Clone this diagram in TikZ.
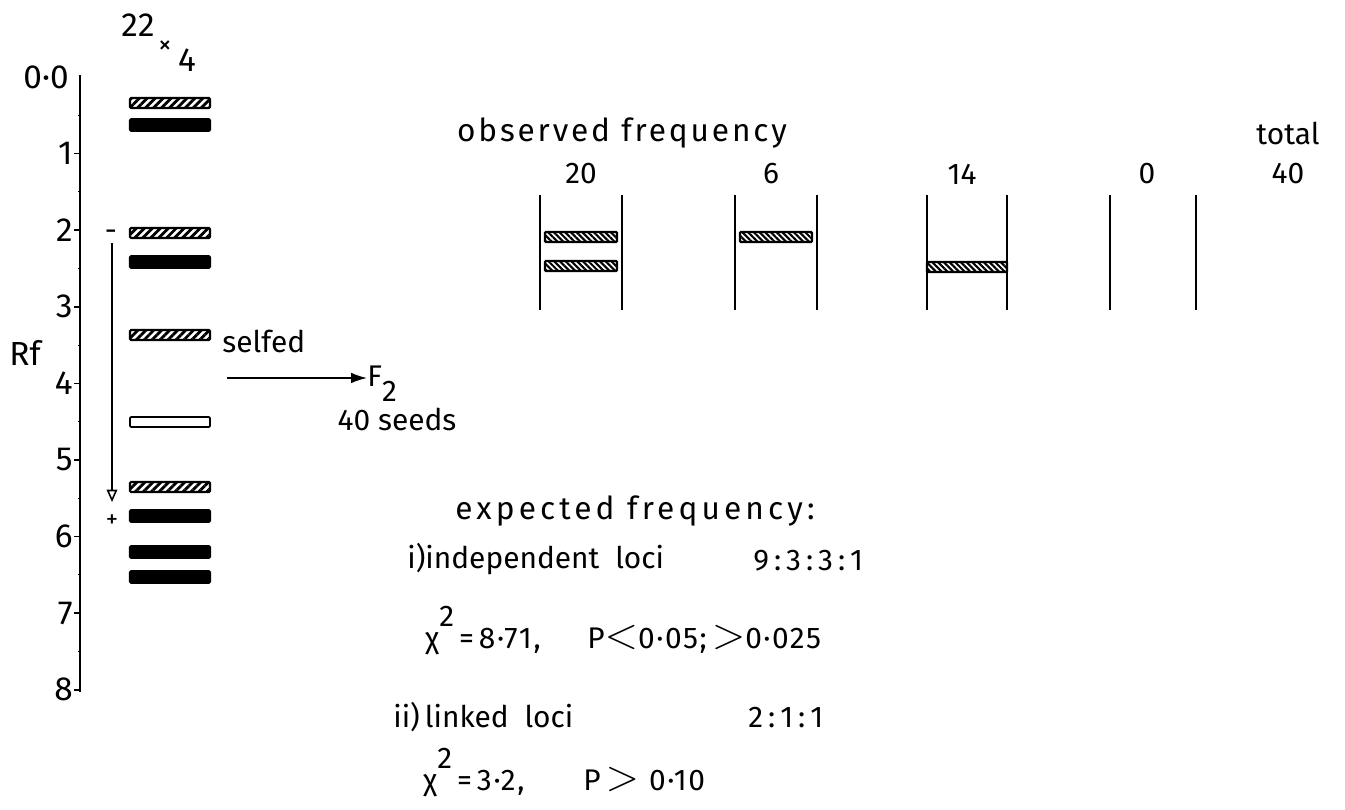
\documentclass[tikz,border=0pt]{standalone}
\usepackage{fontspec}
\usepackage{graphicx}
\setmainfont{Fira Sans}
\usetikzlibrary{arrows.meta,patterns.meta}
\newcommand{\bigrel}[1]{\scalebox{1.45}{$#1$}}
\newcommand{\chisq}{χ\raisebox{12pt}{2}}
\tikzset{
  lbl/.style={inner sep=0pt,font=\fontsize{17}{20}\selectfont},
  spaced/.style 2 args={lbl,font=\fontsize{#1}{20}\selectfont\addfontfeature{LetterSpace=#2}},
  axlbl/.style={lbl,anchor=east,font=\fontsize{19}{22}\selectfont},
  band/.style={draw,line width=1.2pt,inner sep=0pt,minimum width=1.6cm,minimum height=0.2cm,rounded corners=0.6pt},
  solidband/.style={band,fill=black,minimum height=0.23cm},
  hatchband/.style={band,pattern={Lines[angle=45,distance=3.2pt,line width=1.6pt]}},
  openband/.style={band,line width=1pt},
  laneband/.style={band,line width=1.3pt,minimum width=1.44cm,pattern={Lines[angle=-45,distance=2.3pt,line width=1.2pt]}},
  lane/.style={line width=1pt}
}
\begin{document}
\begin{tikzpicture}[x=0.02cm,y=-0.02cm]
  \useasboundingbox (0,0) rectangle (1345,810);
  % gel scale
  \draw[line width=1pt] (80,75) -- (80,692);
  \foreach \k in {1,...,8}
    \draw[line width=0.8pt] (74,77+76.6*\k) -- (80,77+76.6*\k);
  \foreach \k in {0,...,7}
    \draw[line width=0.6pt] (78,115.3+76.6*\k) -- (81,115.3+76.6*\k);
  \node[axlbl] (zero) at (69,77) {0·0};
  \foreach \k in {1,...,8}
    \node[axlbl] (t\k) at (73,77+76.6*\k) {\k};
  \node[lbl,font=\fontsize{19}{22}\selectfont] (rf) at (25,353) {Rf};
  \node[lbl,font=\fontsize{19}{22}\selectfont] (cross) at (138,25) {22};
  \node[lbl,font=\fontsize{15}{17}\selectfont] (times) at (165,47) {×};
  \node[lbl,font=\fontsize{19}{22}\selectfont] (four) at (187,60) {4};
  % parent bands
  \node[hatchband] (b1) at (170,103) {};
  \node[solidband] (b2) at (170,125) {};
  \node[hatchband] (b3) at (170,233) {};
  \node[solidband] (b4) at (170,262) {};
  \node[hatchband] (b5) at (170,335) {};
  \node[openband] (b6) at (170,422) {};
  \node[hatchband] (b7) at (170,487) {};
  \node[solidband] (b8) at (170,516) {};
  \node[solidband] (b9) at (170,552) {};
  \node[solidband] (b10) at (170,577) {};
  % charge
  \node[lbl] (minus) at (111,235) {-};
  \node[lbl,font=\fontsize{14}{16}\selectfont] (plus) at (112,521) {+};
  \coordinate (top) at (112,243);
  \coordinate (bot) at (112,502);
  \draw[line width=0.9pt,-{Triangle[open,length=7pt,width=6pt]}] (top) -- (bot);
  % selfing
  \node[lbl,anchor=base west] (selfed) at (222,353) {selfed};
  \node[lbl,anchor=west] (f2) at (367,384) {F\raisebox{-0.5em}{2}};
  \coordinate (from) at (227,378);
  \draw[line width=0.9pt,-{Latex[length=9pt,width=6pt]}] (from) -- (f2.west |- from);
  \node[lbl] (seeds) at (397,419) {40 seeds};
  % F2 phenotypes
  \node[spaced={18}{9}] (obs) at (622,133) {observed frequency};
  \node[lbl] (n1) at (581,174) {20};
  \node[lbl] (n2) at (771,174) {6};
  \node[lbl] (n3) at (962,174) {14};
  \node[lbl] (n4) at (1147,174) {0};
  \node[lbl] (total) at (1288,133) {total};
  \node[lbl] (n5) at (1288,174) {40};
  \draw[lane] (540,195) -- (540,310) (622,195) -- (622,310);
  \draw[lane] (735,195) -- (735,310) (817,195) -- (817,310);
  \draw[lane] (927,195) -- (927,310) (1007,195) -- (1007,310);
  \draw[lane] (1110,195) -- (1110,310) (1196,195) -- (1196,310);
  \node[laneband] (l1a) at (581,237) {};
  \node[laneband] (l1b) at (581,266) {};
  \node[laneband] (l2a) at (776,237) {};
  \node[laneband,minimum width=1.6cm] (l3a) at (967,267) {};
  % expected
  \node[spaced={18}{13},anchor=base west] (exp) at (455,520) {expected frequency:};
  \node[lbl,anchor=base west] (ind) at (407,568) {i)independent\ \ loci};
  \node[lbl,anchor=base west] (r1) at (753,570) {9\,:\,3\,:\,3\,:\,1};
  \node[spaced={17}{6},anchor=base west] (chi1) at (425,648) {\chisq\,=\,8·71,};
  \node[spaced={17}{5},anchor=base west] (p1) at (587,648) {P\bigrel{<}0·05;\,\bigrel{>}0·025};
  \node[lbl,anchor=base west] (lnk) at (393,727) {ii)\,linked\ \ loci};
  \node[lbl,anchor=base west] (r2) at (748,727) {2\,:\,1\,:\,1};
  \node[spaced={17}{6},anchor=base west] (chi2) at (423,790) {\chisq\,=\,3·2,};
  \node[spaced={17}{5},anchor=base west] (p2) at (583,790) {P\,\bigrel{>}\,\,0·10};
\end{tikzpicture}
\end{document}
